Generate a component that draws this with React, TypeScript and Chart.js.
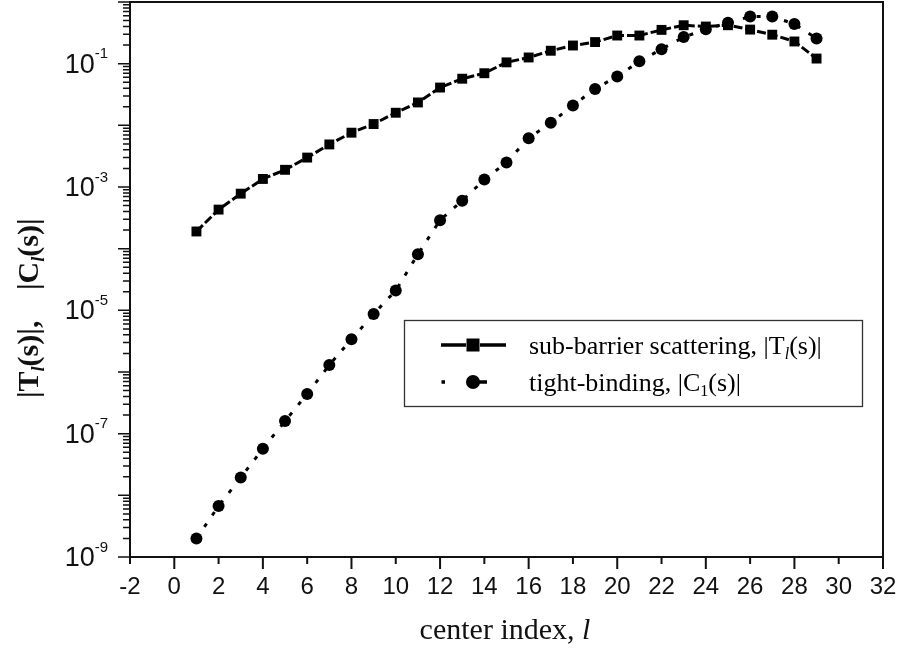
import React, { useEffect, useRef } from 'react';
import { Chart, registerables } from 'chart.js';

Chart.register(...registerables);

const centerIndex = [1, 2, 3, 4, 5, 6, 7, 8, 9, 10, 11, 12, 13, 14, 15, 16, 17, 18, 19, 20, 21, 22, 23, 24, 25, 26, 27, 28, 29];
const subBarrierT = [1.9e-4, 4.3e-4, 7.8e-4, 1.35e-3, 1.9e-3, 3.0e-3, 4.9e-3, 7.6e-3, 1.05e-2, 1.6e-2, 2.35e-2, 4.1e-2, 5.7e-2, 7.0e-2, 0.105, 0.126, 0.162, 0.197, 0.224, 0.286, 0.286, 0.353, 0.42, 0.40, 0.42, 0.357, 0.295, 0.229, 0.121];
const tightBindingC = [2.0e-9, 6.7e-9, 1.95e-8, 5.7e-8, 1.6e-7, 4.4e-7, 1.3e-6, 3.4e-6, 8.7e-6, 2.1e-5, 8.1e-5, 2.9e-4, 6.0e-4, 1.32e-3, 2.5e-3, 6.2e-3, 1.1e-2, 2.1e-2, 3.9e-2, 6.2e-2, 0.109, 0.172, 0.27, 0.36, 0.46, 0.58, 0.58, 0.44, 0.255];
const xTicks = [-2, 0, 2, 4, 6, 8, 10, 12, 14, 16, 18, 20, 22, 24, 26, 28, 30, 32];
const yDecades = [-9, -8, -7, -6, -5, -4, -3, -2, -1, 0];
const yLabelExponents = [-9, -7, -5, -3, -1];

const SERIF = "'Liberation Serif', 'Times New Roman', serif";
const SANS = "'Liberation Sans', Arial, sans-serif";

type Run = { t: string; font: string; dy?: number };

function runsWidth(ctx: CanvasRenderingContext2D, runs: Run[]) {
  let w = 0;
  for (const r of runs) {
    ctx.font = r.font;
    w += ctx.measureText(r.t).width;
  }
  return w;
}

function drawRuns(ctx: CanvasRenderingContext2D, runs: Run[], x: number, y: number) {
  let cx = x;
  for (const r of runs) {
    ctx.font = r.font;
    ctx.fillText(r.t, cx, y + (r.dy || 0));
    cx += ctx.measureText(r.t).width;
  }
  return cx;
}

const axesPlugin = {
  id: 'customAxes',
  beforeDatasetsDraw(chart: any) {
    const ctx: CanvasRenderingContext2D = chart.ctx;
    const { left, right, top, bottom } = chart.chartArea;
    const xs = chart.scales.x;
    const ys = chart.scales.y;
    ctx.save();
    ctx.strokeStyle = '#111';
    ctx.fillStyle = '#111';
    ctx.lineWidth = 2;
    ctx.strokeRect(left, top, right - left, bottom - top);

    // y ticks
    ctx.lineWidth = 1.5;
    ctx.beginPath();
    for (const e of yDecades) {
      const y = ys.getPixelForValue(Math.pow(10, e));
      ctx.moveTo(left - 12, y);
      ctx.lineTo(left, y);
      if (e < 0) {
        for (let k = 2; k <= 9; k++) {
          const ym = ys.getPixelForValue(k * Math.pow(10, e));
          ctx.moveTo(left - 7, ym);
          ctx.lineTo(left, ym);
        }
      }
    }
    ctx.stroke();

    // x ticks
    ctx.lineWidth = 2;
    ctx.beginPath();
    for (const v of xTicks) {
      const x = xs.getPixelForValue(v);
      const len = v % 4 === 0 ? 12 : 7;
      ctx.moveTo(x, bottom);
      ctx.lineTo(x, bottom + len);
    }
    ctx.stroke();

    // x tick labels
    ctx.font = `24px ${SANS}`;
    ctx.textAlign = 'center';
    ctx.textBaseline = 'alphabetic';
    for (const v of xTicks) {
      const x = xs.getPixelForValue(v);
      ctx.fillText(String(v), x, bottom + 36.5);
    }

    // y tick labels 10^e
    ctx.textAlign = 'left';
    for (const e of yLabelExponents) {
      const y = ys.getPixelForValue(Math.pow(10, e));
      const runs: Run[] = [
        { t: '10', font: `27px ${SANS}` },
        { t: String(e), font: `15px ${SANS}`, dy: -14.5 },
      ];
      const w = runsWidth(ctx, runs);
      drawRuns(ctx, runs, left - 22 - w, y + 9);
    }

    // y title (rotated)
    ctx.save();
    ctx.translate(38, 305);
    ctx.rotate(-Math.PI / 2);
    const bold = `bold 30px ${SERIF}`;
    const sub = `italic bold 18px ${SERIF}`;
    drawRuns(ctx, [
      { t: '|T', font: bold },
      { t: 'l', font: sub, dy: 6 },
      { t: '(s)|,', font: bold },
    ], -93, 0);
    drawRuns(ctx, [
      { t: '|C', font: bold },
      { t: 'l', font: sub, dy: 6 },
      { t: '(s)|', font: bold },
    ], 15, 0);
    ctx.restore();

    // x title
    const xr: Run[] = [
      { t: 'center index, ', font: `30px ${SERIF}` },
      { t: 'l', font: `italic 30px ${SERIF}` },
    ];
    const xw = runsWidth(ctx, xr);
    drawRuns(ctx, xr, 505 - xw / 2, 639);
    ctx.restore();
  },
  afterDatasetsDraw(chart: any) {
    const ctx: CanvasRenderingContext2D = chart.ctx;
    ctx.save();
    // legend box
    ctx.fillStyle = '#fff';
    ctx.fillRect(404, 320, 459, 87);
    ctx.strokeStyle = '#333';
    ctx.lineWidth = 1.3;
    ctx.strokeRect(404.5, 320.5, 458, 86);
    ctx.fillStyle = '#000';
    ctx.strokeStyle = '#000';
    // symbol 1
    ctx.lineWidth = 3.5;
    ctx.beginPath();
    ctx.moveTo(441, 345);
    ctx.lineTo(466, 345);
    ctx.moveTo(480, 345);
    ctx.lineTo(506, 345);
    ctx.stroke();
    ctx.fillRect(466.5, 338.5, 13, 13);
    // symbol 2
    ctx.beginPath();
    ctx.moveTo(441.5, 382);
    ctx.lineTo(445, 382);
    ctx.moveTo(479, 382);
    ctx.lineTo(487, 382);
    ctx.stroke();
    ctx.beginPath();
    ctx.arc(473, 382, 7, 0, Math.PI * 2);
    ctx.fill();
    // legend text
    ctx.textAlign = 'left';
    ctx.textBaseline = 'alphabetic';
    const f = `26px ${SERIF}`;
    drawRuns(ctx, [
      { t: 'sub-barrier scattering, |T', font: f },
      { t: 'l', font: `italic 16px ${SERIF}`, dy: 5 },
      { t: '(s)|', font: f },
    ], 529, 354);
    drawRuns(ctx, [
      { t: 'tight-binding, |C', font: f },
      { t: '1', font: `16px ${SERIF}`, dy: 5 },
      { t: '(s)|', font: f },
    ], 529, 391);
    ctx.restore();
  },
};

export default function App() {
  const ref = useRef<HTMLCanvasElement | null>(null);
  useEffect(() => {
    if (!ref.current) return;
    const chart = new Chart(ref.current, {
      type: 'line',
      data: {
        datasets: [
          {
            label: 'sub-barrier scattering, |T_l(s)|',
            data: centerIndex.map((x, i) => ({ x, y: subBarrierT[i] })),
            borderColor: '#000',
            backgroundColor: '#000',
            borderWidth: 3,
            borderDash: [9, 3],
            pointStyle: 'rect',
            pointRadius: 7,
            pointBorderWidth: 0,
            pointBackgroundColor: '#000',
          },
          {
            label: 'tight-binding, |C_1(s)|',
            data: centerIndex.map((x, i) => ({ x, y: tightBindingC[i] })),
            borderColor: '#000',
            backgroundColor: '#000',
            borderWidth: 3,
            borderDash: [4, 10],
            pointStyle: 'circle',
            pointRadius: 6,
            pointBorderWidth: 0,
            pointBackgroundColor: '#000',
          },
        ],
      },
      options: {
        animation: false,
        responsive: false,
        events: [],
        layout: { autoPadding: false, padding: { left: 130, right: 16, top: 2, bottom: 97 } },
        scales: {
          x: { type: 'linear', min: -2, max: 32, display: false },
          y: { type: 'logarithmic', min: 1e-9, max: 1, display: false },
        },
        plugins: { legend: { display: false }, tooltip: { enabled: false } },
      },
      plugins: [axesPlugin],
    });
    return () => chart.destroy();
  }, []);
  return (
    <div style={{ position: 'fixed', left: 0, top: 0, width: 899, height: 654, background: '#fff' }}>
      <canvas ref={ref} width={899} height={654} style={{ width: 899, height: 654 }} />
    </div>
  );
}
